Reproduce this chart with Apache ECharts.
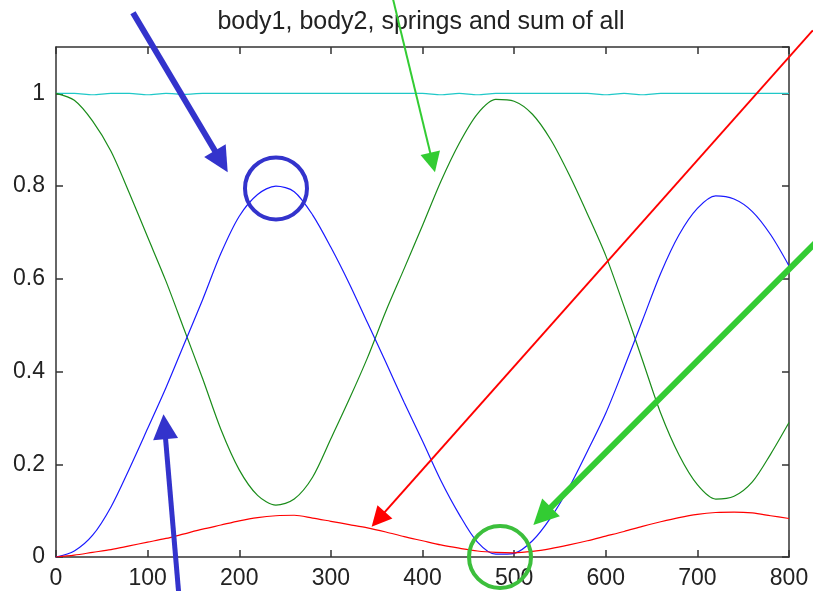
<!DOCTYPE html>
<html>
<head>
<meta charset="utf-8">
<script src="https://cdn.jsdelivr.net/npm/echarts@6/dist/echarts.min.js"></script>
<style>
html,body{margin:0;padding:0;background:#fff;}
#chart{width:813px;height:591px;}
</style>
</head>
<body>
<div id="chart"></div>
<script>
// ---- data ----
const titleText = 'body1, body2, springs and sum of all';
const xValues = [0,20,40,60,80,100,120,140,160,180,200,220,240,260,280,300,320,340,360,380,400,
                 420,440,460,480,500,520,540,560,580,600,620,640,660,680,700,720,740,760,780,800];
const body1 = [0,0.013,0.047,0.108,0.19,0.277,0.365,0.46,0.555,0.655,0.735,0.782,0.8,0.788,0.738,0.668,0.59,0.505,0.42,0.333,0.25,
               0.165,0.092,0.032,0.006,0.008,0.035,0.085,0.15,0.228,0.31,0.408,0.51,0.612,0.695,0.752,0.779,0.772,0.745,0.695,0.628];
const body2 = [1.0,0.985,0.94,0.875,0.785,0.69,0.595,0.49,0.385,0.275,0.188,0.133,0.112,0.125,0.172,0.255,0.34,0.43,0.53,0.622,0.715,
               0.81,0.892,0.956,0.987,0.983,0.955,0.9,0.825,0.74,0.65,0.54,0.425,0.31,0.22,0.156,0.125,0.131,0.162,0.222,0.29];
const springs = [0,0.004,0.01,0.016,0.024,0.032,0.04,0.05,0.06,0.069,0.078,0.085,0.089,0.09,0.084,0.077,0.07,0.063,0.054,0.044,0.035,
                 0.026,0.019,0.013,0.01,0.009,0.012,0.018,0.026,0.035,0.045,0.055,0.066,0.076,0.085,0.092,0.096,0.097,0.095,0.089,0.083];
const sumAll = [1,1,0.997,1,1,0.997,1,0.998,1,1,1,1,1,1,1,1,1,1,1,1,1,
                0.997,1,0.997,1,1,1,1,1,1,0.997,1,0.997,1,1,1,1,1,1,1,1];
const xTicks = {min:0, max:800, interval:100};
const yTicks = {min:0, max:1.1, interval:0.2};

// ---- annotations (in data units) ----
const arrows = [
  {from:[84,1.174],  to:[187.4,0.83],  color:'#3333cc', width:6, head:25, half:12.5},
  {from:[134,-0.08], to:[117.3,0.308], color:'#3333cc', width:5, head:25, half:12.5},
  {from:[367,1.21],  to:[413.6,0.83],  color:'#33cc33', width:2, head:20, half:10},
  {from:[826,1.136], to:[344.5,0.065], color:'#ff0000', width:2, head:20, half:10},
  {from:[830,0.68],  to:[521,0.069],   color:'#33cc33', width:6, head:25, half:12.5}
];
const circles = [
  {at:[240.1,0.795], r:31, color:'#3333cc'},
  {at:[484.6,0.0],   r:31, color:'#3cbf3c'}
];

const FONT = 'Liberation Sans, Arial, Helvetica, sans-serif';
const axisColor = '#333333';

function mkLine(name, data, color){
  return {
    name, type:'line', xAxisIndex:0, yAxisIndex:0,
    data: xValues.map((x,i)=>[x,data[i]]),
    showSymbol:false, smooth:0.3,
    lineStyle:{color, width:1.2}, itemStyle:{color},
    z:2
  };
}

const baseX = {
  type:'value', min:xTicks.min, max:xTicks.max, interval:xTicks.interval,
  axisLine:{show:true, onZero:false, lineStyle:{color:axisColor, width:1.5}},
  axisTick:{show:true, inside:true, length:7, lineStyle:{color:axisColor, width:1.5}},
  splitLine:{show:false}
};
const baseY = {
  type:'value', min:yTicks.min, max:yTicks.max, interval:yTicks.interval,
  axisLine:{show:true, onZero:false, lineStyle:{color:axisColor, width:1.5}},
  axisTick:{show:true, inside:true, length:7, lineStyle:{color:axisColor, width:1.5}},
  splitLine:{show:false}
};

const chart = echarts.init(document.getElementById('chart'), null, {renderer:'canvas'});
chart.setOption({
  animation:false,
  backgroundColor:'#ffffff',
  title:{
    text:titleText, left:416, top:5, textAlign:'center',
    textStyle:{fontFamily:FONT, fontSize:25, fontWeight:'normal', color:'#222222'}
  },
  grid:{left:56, right:24, top:47, bottom:34, containLabel:false},
  xAxis:[
    Object.assign({}, baseX, {position:'bottom',
      axisLabel:{show:true, fontFamily:FONT, fontSize:23, color:'#222222', margin:10}}),
    Object.assign({}, baseX, {position:'top', axisLabel:{show:false}})
  ],
  yAxis:[
    Object.assign({}, baseY, {position:'left',
      axisLabel:{show:true, fontFamily:FONT, fontSize:23, color:'#222222', margin:11, showMaxLabel:false}}),
    Object.assign({}, baseY, {position:'right', axisLabel:{show:false}})
  ],
  series:[
    mkLine('sum of all', sumAll, '#1fc8c8'),
    mkLine('body2', body2, '#1a8c1a'),
    mkLine('body1', body1, '#1a1aff'),
    mkLine('springs', springs, '#ff0000')
  ]
});

const toPx = p => chart.convertToPixel({xAxisIndex:0, yAxisIndex:0}, p);
const elements = [];
arrows.forEach(a=>{
  const p0 = toPx(a.from), p1 = toPx(a.to);
  const dx = p1[0]-p0[0], dy = p1[1]-p0[1];
  const L = Math.hypot(dx,dy), ux = dx/L, uy = dy/L;
  const bx = p1[0]-ux*a.head, by = p1[1]-uy*a.head;
  const nx = -uy, ny = ux;
  elements.push({type:'line', z:100, silent:true,
    shape:{x1:p0[0], y1:p0[1], x2:bx+ux*2, y2:by+uy*2},
    style:{stroke:a.color, lineWidth:a.width}});
  elements.push({type:'polygon', z:100, silent:true,
    shape:{points:[[p1[0],p1[1]],[bx+nx*a.half,by+ny*a.half],[bx-nx*a.half,by-ny*a.half]]},
    style:{fill:a.color}});
});
circles.forEach(c=>{
  const p = toPx(c.at);
  elements.push({type:'circle', z:100, silent:true,
    shape:{cx:p[0], cy:p[1], r:c.r},
    style:{fill:'transparent', stroke:c.color, lineWidth:4}});
});
chart.setOption({graphic:{elements}});
</script>
</body>
</html>
